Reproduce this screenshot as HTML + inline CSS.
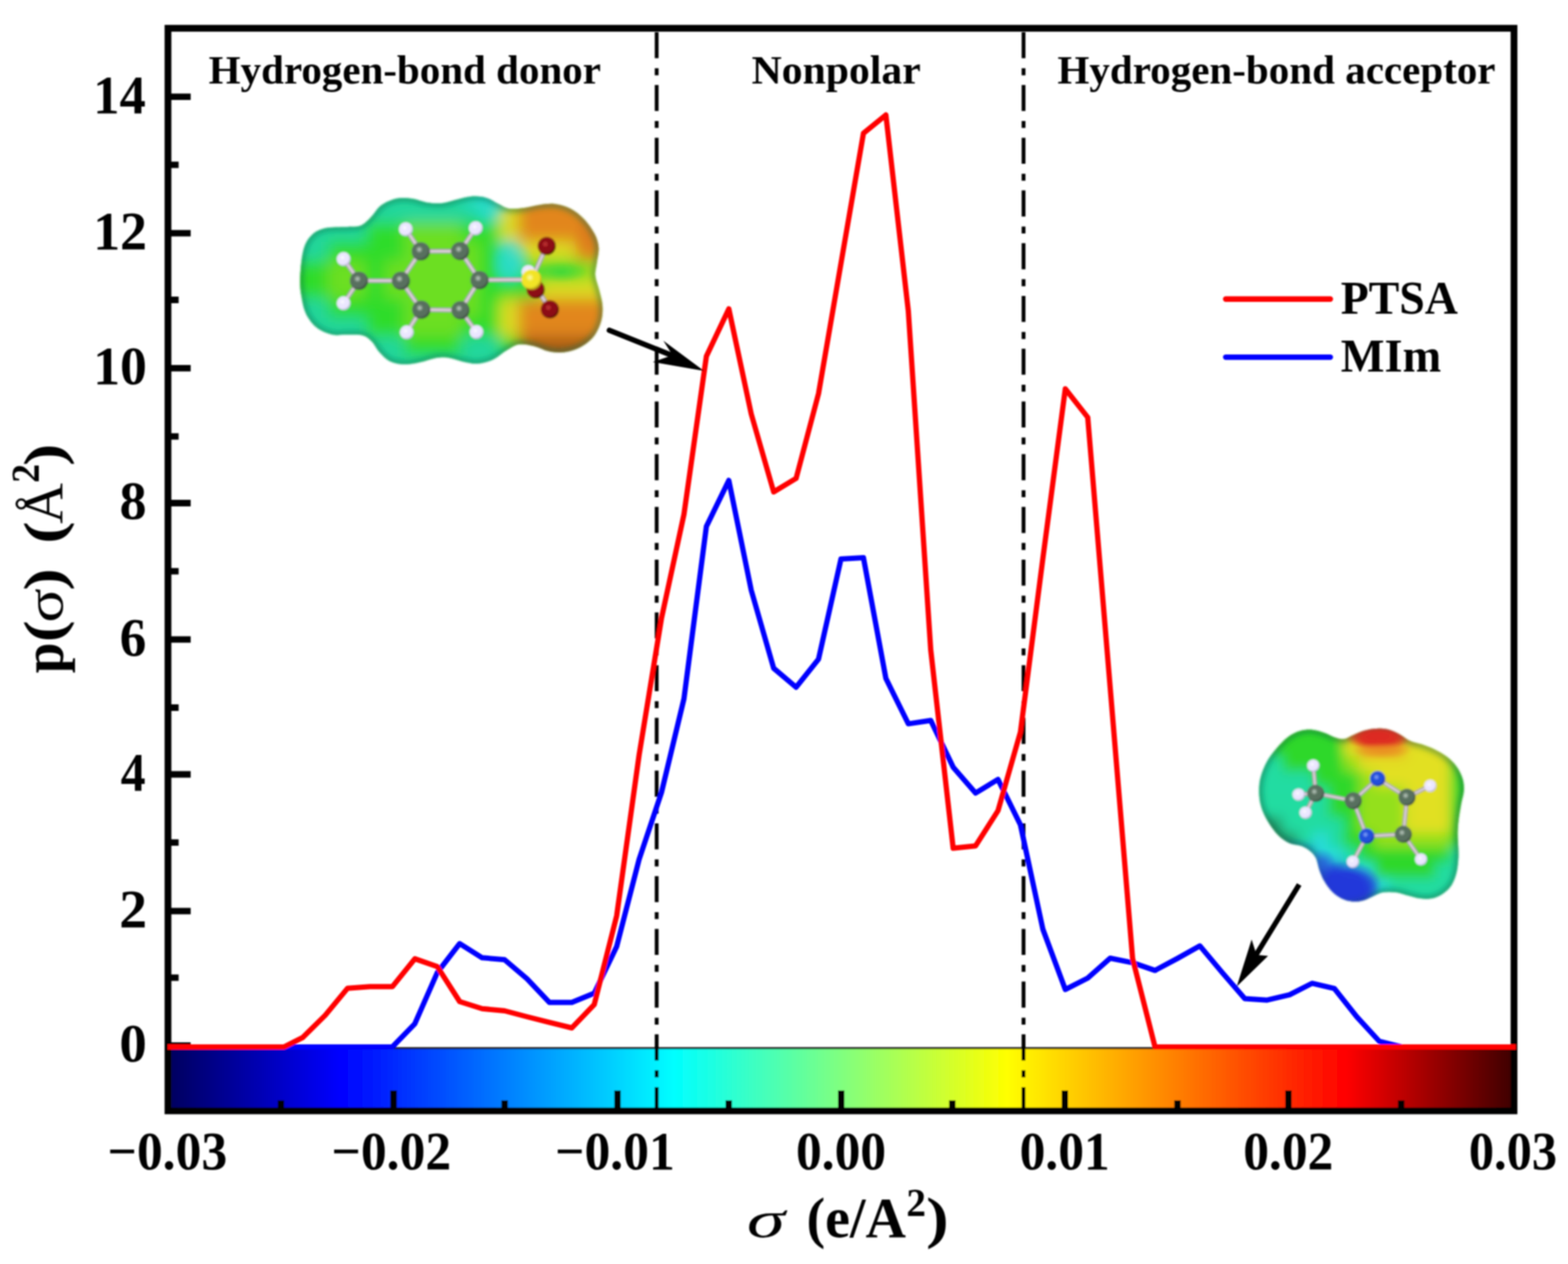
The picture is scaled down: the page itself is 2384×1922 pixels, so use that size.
<!DOCTYPE html>
<html lang="en"><head><meta charset="utf-8"><title>Sigma profile: PTSA and MIm</title>
<style>html,body{margin:0;padding:0;background:#fff}svg{display:block}text{font-family:"Liberation Serif","DejaVu Serif",serif;font-weight:bold;fill:#000}</style></head><body>
<svg width="2384" height="1922" viewBox="0 0 2384 1922" role="img" aria-label="Sigma profiles of PTSA and MIm">
<defs>
<linearGradient id="cb" x1="0" y1="0" x2="1" y2="0"><stop offset="0" stop-color="#000060"/><stop offset="0.1256" stop-color="#0000ff"/><stop offset="0.3755" stop-color="#00ffff"/><stop offset="0.6239" stop-color="#ffff00"/><stop offset="0.8767" stop-color="#ff0000"/><stop offset="1" stop-color="#400000"/></linearGradient>
<filter id="soft" filterUnits="userSpaceOnUse" x="0" y="0" width="2384" height="1922"><feGaussianBlur stdDeviation="0.9"/></filter>
<clipPath id="m1clip"><path d="M456.3,424.0C456.6,412.4 458.2,393.0 460.9,382.2C463.6,371.3 467.1,364.8 472.5,359.0C477.9,353.2 484.1,349.7 493.4,347.3C502.7,345.0 519.0,345.8 528.2,345.0C537.5,344.3 543.0,345.4 549.2,342.7C555.3,340.0 560.4,333.8 565.4,328.8C570.4,323.7 573.1,317.0 579.3,312.5C585.5,308.1 594.8,303.8 602.6,302.1C610.3,300.3 618.0,301.1 625.8,302.1C633.5,303.0 641.3,306.7 649.0,307.9C656.8,309.0 664.5,309.8 672.2,309.0C680.0,308.3 687.7,305.0 695.5,303.2C703.2,301.5 711.3,299.0 718.7,298.6C726.0,298.2 733.0,299.0 739.6,300.9C746.2,302.8 752.4,307.5 758.2,310.2C764.0,312.9 767.8,316.2 774.4,317.2C781.0,318.1 789.9,317.0 797.6,316.0C805.4,315.0 813.1,312.3 820.9,311.4C828.6,310.4 836.3,309.2 844.1,310.2C851.8,311.2 860.0,313.3 867.3,317.2C874.7,321.0 882.0,326.8 888.2,333.4C894.4,340.0 900.8,349.3 904.5,356.6C908.1,364.0 909.8,370.2 910.3,377.5C910.7,384.9 908.1,393.8 907.3,400.8C906.4,407.7 904.5,412.4 905.2,419.3C905.9,426.3 909.6,434.8 911.4,442.6C913.3,450.3 915.7,458.0 916.1,465.8C916.5,473.5 916.1,481.3 913.8,489.0C911.4,496.8 907.6,505.7 902.1,512.2C896.7,518.8 888.6,524.6 881.2,528.5C873.9,532.4 865.8,534.5 858.0,535.5C850.3,536.4 842.5,535.8 834.8,534.3C827.1,532.7 819.3,527.9 811.6,526.2C803.8,524.4 795.3,522.7 788.4,523.8C781.4,525.0 776.4,529.3 769.8,533.1C763.2,537.0 756.2,543.8 748.9,547.1C741.5,550.4 733.4,552.5 725.6,552.9C717.9,553.3 710.2,550.9 702.4,549.4C694.7,547.8 686.2,544.4 679.2,543.6C672.2,542.8 667.2,543.6 660.6,544.7C654.0,545.9 647.1,549.0 639.7,550.6C632.4,552.1 624.2,554.2 616.5,554.0C608.8,553.8 599.9,552.5 593.3,549.4C586.7,546.3 581.7,540.5 577.0,535.5C572.4,530.4 569.7,523.5 565.4,519.2C561.1,514.9 557.7,511.7 551.5,509.9C545.3,508.2 536.0,508.9 528.2,508.8C520.5,508.6 512.8,510.5 505.0,508.8C497.3,507.0 488.4,503.5 481.8,498.3C475.2,493.1 469.4,485.1 465.5,477.4C461.7,469.7 460.1,460.8 458.6,451.9C457.0,443.0 455.9,435.6 456.3,424.0Z"/></clipPath>
<filter id="m1soft" x="-10%" y="-10%" width="120%" height="120%"><feGaussianBlur stdDeviation="1.3"/></filter>
<filter id="m1edge" x="-20%" y="-20%" width="140%" height="140%"><feGaussianBlur stdDeviation="5"/></filter>
<radialGradient id="m1aC" cx="0.42" cy="0.40" r="0.62"><stop offset="0" stop-color="#c4d2c8"/><stop offset="0.32" stop-color="#59705f"/><stop offset="0.75" stop-color="#59705f"/><stop offset="1" stop-color="#2f3d34"/></radialGradient>
<radialGradient id="m1aH" cx="0.42" cy="0.40" r="0.62"><stop offset="0" stop-color="#ffffff"/><stop offset="0.32" stop-color="#ebe6ff"/><stop offset="0.75" stop-color="#ebe6ff"/><stop offset="1" stop-color="#b4acd8"/></radialGradient>
<radialGradient id="m1aO" cx="0.42" cy="0.40" r="0.62"><stop offset="0" stop-color="#c8383c"/><stop offset="0.32" stop-color="#8c0f14"/><stop offset="0.75" stop-color="#8c0f14"/><stop offset="1" stop-color="#4a0406"/></radialGradient>
<radialGradient id="m1aS" cx="0.42" cy="0.40" r="0.62"><stop offset="0" stop-color="#ffffb0"/><stop offset="0.32" stop-color="#f2e428"/><stop offset="0.75" stop-color="#f2e428"/><stop offset="1" stop-color="#ad9c0e"/></radialGradient>
<radialGradient id="m1aN" cx="0.42" cy="0.40" r="0.62"><stop offset="0" stop-color="#8fb0ff"/><stop offset="0.32" stop-color="#2450dc"/><stop offset="0.75" stop-color="#2450dc"/><stop offset="1" stop-color="#0e2080"/></radialGradient>
<filter id="m1gb" filterUnits="userSpaceOnUse" x="411" y="251" width="581" height="377"><feGaussianBlur stdDeviation="11"/></filter>
<radialGradient id="m1g0"><stop offset="0.0" stop-color="#28dcc8" stop-opacity="0.8"/><stop offset="1" stop-color="#28dcc8" stop-opacity="0"/></radialGradient>
<radialGradient id="m1g1"><stop offset="0.0" stop-color="#28dcc8" stop-opacity="0.8"/><stop offset="1" stop-color="#28dcc8" stop-opacity="0"/></radialGradient>
<radialGradient id="m1g2"><stop offset="0.0" stop-color="#3ed83a" stop-opacity="0.85"/><stop offset="1" stop-color="#3ed83a" stop-opacity="0"/></radialGradient>
<radialGradient id="m1g3"><stop offset="0.0" stop-color="#d9741c" stop-opacity="0.6"/><stop offset="1" stop-color="#d9741c" stop-opacity="0"/></radialGradient>
<clipPath id="m2clip"><path d="M1914.4,1200.8C1914.5,1193.9 1915.1,1187.4 1917.2,1180.3C1919.2,1173.2 1922.4,1165.2 1926.4,1158.0C1930.5,1150.9 1936.0,1143.8 1941.3,1137.6C1946.6,1131.4 1952.1,1125.2 1958.0,1120.9C1963.9,1116.5 1970.4,1113.4 1976.6,1111.6C1982.8,1109.7 1989.0,1109.3 1995.2,1109.7C2001.4,1110.2 2008.2,1112.5 2013.8,1114.4C2019.3,1116.2 2023.7,1119.3 2028.6,1120.9C2033.6,1122.4 2038.5,1124.3 2043.5,1123.7C2048.4,1123.0 2053.1,1119.3 2058.4,1117.2C2063.6,1115.0 2069.2,1112.2 2075.1,1110.7C2081.0,1109.1 2087.5,1108.0 2093.7,1107.9C2099.8,1107.7 2106.4,1108.2 2112.2,1109.7C2118.1,1111.3 2123.7,1114.4 2129.0,1117.2C2134.2,1119.9 2138.2,1124.0 2143.8,1126.4C2149.4,1128.9 2156.2,1129.9 2162.4,1132.0C2168.6,1134.2 2174.8,1136.4 2181.0,1139.5C2187.2,1142.5 2194.0,1146.3 2199.6,1150.6C2205.1,1154.9 2210.4,1159.9 2214.4,1165.5C2218.4,1171.0 2221.8,1177.8 2223.7,1184.0C2225.6,1190.2 2225.9,1196.4 2225.6,1202.6C2225.3,1208.8 2223.1,1214.4 2221.8,1221.2C2220.6,1228.0 2219.1,1236.1 2218.1,1243.5C2217.2,1250.9 2216.4,1258.4 2216.3,1265.8C2216.1,1273.2 2217.0,1281.3 2217.2,1288.1C2217.4,1294.9 2217.7,1300.2 2217.2,1306.7C2216.7,1313.2 2216.1,1320.6 2214.4,1327.1C2212.7,1333.6 2210.4,1340.4 2207.0,1345.7C2203.6,1350.9 2198.9,1355.3 2194.0,1358.7C2189.0,1362.1 2183.1,1364.9 2177.3,1366.1C2171.4,1367.4 2164.9,1366.9 2158.7,1366.1C2152.5,1365.3 2146.3,1363.0 2140.1,1361.5C2133.9,1359.9 2127.7,1357.6 2121.5,1356.8C2115.3,1356.0 2108.5,1355.9 2102.9,1356.8C2097.4,1357.8 2093.0,1360.4 2088.1,1362.4C2083.1,1364.4 2078.5,1367.5 2073.2,1368.9C2068.0,1370.3 2062.1,1371.2 2056.5,1370.8C2050.9,1370.3 2045.0,1368.7 2039.8,1366.1C2034.5,1363.5 2029.2,1359.3 2024.9,1355.0C2020.6,1350.6 2016.9,1345.4 2013.8,1340.1C2010.7,1334.8 2008.5,1329.3 2006.3,1323.4C2004.2,1317.5 2003.2,1309.8 2000.8,1304.8C1998.3,1299.8 1995.2,1296.8 1991.5,1293.7C1987.8,1290.6 1983.4,1288.1 1978.5,1286.2C1973.5,1284.4 1967.0,1284.7 1961.7,1282.5C1956.5,1280.3 1951.5,1277.2 1946.9,1273.2C1942.2,1269.2 1937.9,1263.9 1933.9,1258.4C1929.9,1252.8 1925.7,1246.0 1922.7,1239.8C1919.8,1233.6 1917.6,1227.7 1916.2,1221.2C1914.8,1214.7 1914.2,1207.6 1914.4,1200.8Z"/></clipPath>
<filter id="m2soft" x="-10%" y="-10%" width="120%" height="120%"><feGaussianBlur stdDeviation="1.3"/></filter>
<filter id="m2edge" x="-20%" y="-20%" width="140%" height="140%"><feGaussianBlur stdDeviation="5"/></filter>
<radialGradient id="m2aC" cx="0.42" cy="0.40" r="0.62"><stop offset="0" stop-color="#c4d2c8"/><stop offset="0.32" stop-color="#59705f"/><stop offset="0.75" stop-color="#59705f"/><stop offset="1" stop-color="#2f3d34"/></radialGradient>
<radialGradient id="m2aH" cx="0.42" cy="0.40" r="0.62"><stop offset="0" stop-color="#ffffff"/><stop offset="0.32" stop-color="#ebe6ff"/><stop offset="0.75" stop-color="#ebe6ff"/><stop offset="1" stop-color="#b4acd8"/></radialGradient>
<radialGradient id="m2aO" cx="0.42" cy="0.40" r="0.62"><stop offset="0" stop-color="#c8383c"/><stop offset="0.32" stop-color="#8c0f14"/><stop offset="0.75" stop-color="#8c0f14"/><stop offset="1" stop-color="#4a0406"/></radialGradient>
<radialGradient id="m2aS" cx="0.42" cy="0.40" r="0.62"><stop offset="0" stop-color="#ffffb0"/><stop offset="0.32" stop-color="#f2e428"/><stop offset="0.75" stop-color="#f2e428"/><stop offset="1" stop-color="#ad9c0e"/></radialGradient>
<radialGradient id="m2aN" cx="0.42" cy="0.40" r="0.62"><stop offset="0" stop-color="#8fb0ff"/><stop offset="0.32" stop-color="#2450dc"/><stop offset="0.75" stop-color="#2450dc"/><stop offset="1" stop-color="#0e2080"/></radialGradient>
<filter id="m2gb" filterUnits="userSpaceOnUse" x="1857" y="1057" width="464" height="372"><feGaussianBlur stdDeviation="9"/></filter>
<radialGradient id="m2g0"><stop offset="0.3" stop-color="#dc2a22" stop-opacity="0.9"/><stop offset="1" stop-color="#dc2a22" stop-opacity="0"/></radialGradient>
<radialGradient id="m2g1"><stop offset="0.3" stop-color="#2236d8" stop-opacity="0.9"/><stop offset="1" stop-color="#2236d8" stop-opacity="0"/></radialGradient>
<radialGradient id="m2g2"><stop offset="0.45" stop-color="#de2c22" stop-opacity="0.95"/><stop offset="1" stop-color="#de2c22" stop-opacity="0"/></radialGradient>
<radialGradient id="m2g3"><stop offset="0.2" stop-color="#ea8c22" stop-opacity="0.7"/><stop offset="1" stop-color="#ea8c22" stop-opacity="0"/></radialGradient>
<radialGradient id="m2g4"><stop offset="0.45" stop-color="#2438da" stop-opacity="0.95"/><stop offset="1" stop-color="#2438da" stop-opacity="0"/></radialGradient>
<radialGradient id="m2g5"><stop offset="0.2" stop-color="#2a58dc" stop-opacity="0.7"/><stop offset="1" stop-color="#2a58dc" stop-opacity="0"/></radialGradient>
</defs>
<rect x="0" y="0" width="2384" height="1922" fill="#fff"/>
<g filter="url(#soft)">
<rect x="260.1" y="1593.5" width="2037.2" height="91.2" fill="url(#cb)"/>
<line x1="260.1" y1="1593.8" x2="2297.2" y2="1593.8" stroke="#1a1a1a" stroke-width="3"/>
<rect x="255.4" y="43.0" width="2046.5" height="1646.1" fill="none" stroke="#000" stroke-width="10.3"/>
<path d="M255.4,147.2H289.9M255.4,250.6H271.6M255.4,354.6H289.9M255.4,456.0H271.6M255.4,559.8H289.9M255.4,663.6H271.6M255.4,765.0H289.9M255.4,868.7H271.6M255.4,972.4H289.9M255.4,1076.0H271.6M255.4,1177.5H289.9M255.4,1281.1H271.6M255.4,1385.3H289.9M255.4,1486.6H271.6M255.4,1589.8H289.9M427.2,1689.1V1673.2M598.4,1689.1V1658.2M767.3,1689.1V1673.2M938.8,1689.1V1658.2M1107.9,1689.1V1673.2M1278.9,1689.1V1658.2M1447.8,1689.1V1673.2M1619.0,1689.1V1658.2M1790.3,1689.1V1673.2M1958.9,1689.1V1658.2M2130.4,1689.1V1673.2" fill="none" stroke="#000" stroke-width="9.8"/>
<line x1="998.4" y1="49.0" x2="998.4" y2="1689.1" stroke="#000" stroke-width="5.8" stroke-dasharray="39.6 15.2 10.6 14.8"/>
<line x1="1556.2" y1="49.0" x2="1556.2" y2="1689.1" stroke="#000" stroke-width="5.8" stroke-dasharray="39.6 15.2 10.6 14.8"/>
<g filter="url(#m1soft)">
<path d="M456.3,424.0C456.6,412.4 458.2,393.0 460.9,382.2C463.6,371.3 467.1,364.8 472.5,359.0C477.9,353.2 484.1,349.7 493.4,347.3C502.7,345.0 519.0,345.8 528.2,345.0C537.5,344.3 543.0,345.4 549.2,342.7C555.3,340.0 560.4,333.8 565.4,328.8C570.4,323.7 573.1,317.0 579.3,312.5C585.5,308.1 594.8,303.8 602.6,302.1C610.3,300.3 618.0,301.1 625.8,302.1C633.5,303.0 641.3,306.7 649.0,307.9C656.8,309.0 664.5,309.8 672.2,309.0C680.0,308.3 687.7,305.0 695.5,303.2C703.2,301.5 711.3,299.0 718.7,298.6C726.0,298.2 733.0,299.0 739.6,300.9C746.2,302.8 752.4,307.5 758.2,310.2C764.0,312.9 767.8,316.2 774.4,317.2C781.0,318.1 789.9,317.0 797.6,316.0C805.4,315.0 813.1,312.3 820.9,311.4C828.6,310.4 836.3,309.2 844.1,310.2C851.8,311.2 860.0,313.3 867.3,317.2C874.7,321.0 882.0,326.8 888.2,333.4C894.4,340.0 900.8,349.3 904.5,356.6C908.1,364.0 909.8,370.2 910.3,377.5C910.7,384.9 908.1,393.8 907.3,400.8C906.4,407.7 904.5,412.4 905.2,419.3C905.9,426.3 909.6,434.8 911.4,442.6C913.3,450.3 915.7,458.0 916.1,465.8C916.5,473.5 916.1,481.3 913.8,489.0C911.4,496.8 907.6,505.7 902.1,512.2C896.7,518.8 888.6,524.6 881.2,528.5C873.9,532.4 865.8,534.5 858.0,535.5C850.3,536.4 842.5,535.8 834.8,534.3C827.1,532.7 819.3,527.9 811.6,526.2C803.8,524.4 795.3,522.7 788.4,523.8C781.4,525.0 776.4,529.3 769.8,533.1C763.2,537.0 756.2,543.8 748.9,547.1C741.5,550.4 733.4,552.5 725.6,552.9C717.9,553.3 710.2,550.9 702.4,549.4C694.7,547.8 686.2,544.4 679.2,543.6C672.2,542.8 667.2,543.6 660.6,544.7C654.0,545.9 647.1,549.0 639.7,550.6C632.4,552.1 624.2,554.2 616.5,554.0C608.8,553.8 599.9,552.5 593.3,549.4C586.7,546.3 581.7,540.5 577.0,535.5C572.4,530.4 569.7,523.5 565.4,519.2C561.1,514.9 557.7,511.7 551.5,509.9C545.3,508.2 536.0,508.9 528.2,508.8C520.5,508.6 512.8,510.5 505.0,508.8C497.3,507.0 488.4,503.5 481.8,498.3C475.2,493.1 469.4,485.1 465.5,477.4C461.7,469.7 460.1,460.8 458.6,451.9C457.0,443.0 455.9,435.6 456.3,424.0Z" fill="#2fdc2c"/>
<g clip-path="url(#m1clip)">
<g filter="url(#m1gb)">
<rect x="411" y="251" width="581" height="377" fill="#2fdc2c"/>
<rect x="440.0" y="280.0" width="290.6" height="29.3" fill="#20d79c"/>
<rect x="730.3" y="280.0" width="29.3" height="29.3" fill="#28dcc8"/>
<rect x="788.4" y="280.0" width="174.5" height="29.3" fill="#e2861f"/>
<rect x="440.0" y="309.0" width="290.6" height="29.3" fill="#20d79c"/>
<rect x="730.3" y="309.0" width="29.3" height="29.3" fill="#28dcc8"/>
<rect x="759.3" y="309.0" width="29.3" height="29.3" fill="#dcdc22"/>
<rect x="788.4" y="309.0" width="174.5" height="29.3" fill="#e2861f"/>
<rect x="440.0" y="338.1" width="116.4" height="29.3" fill="#20d79c"/>
<rect x="614.2" y="338.1" width="87.4" height="29.3" fill="#6cdf22"/>
<rect x="759.3" y="338.1" width="29.3" height="29.3" fill="#dcdc22"/>
<rect x="788.4" y="338.1" width="174.5" height="29.3" fill="#e2861f"/>
<rect x="440.0" y="367.1" width="58.4" height="29.3" fill="#20d79c"/>
<rect x="614.2" y="367.1" width="116.4" height="29.3" fill="#6cdf22"/>
<rect x="759.3" y="367.1" width="29.3" height="29.3" fill="#28dcc8"/>
<rect x="788.4" y="367.1" width="87.4" height="29.3" fill="#dcdc22"/>
<rect x="875.4" y="367.1" width="87.4" height="29.3" fill="#e2861f"/>
<rect x="498.1" y="396.1" width="58.4" height="29.3" fill="#6cdf22"/>
<rect x="585.1" y="396.1" width="145.4" height="29.3" fill="#6cdf22"/>
<rect x="759.3" y="396.1" width="29.3" height="29.3" fill="#28dcc8"/>
<rect x="875.4" y="396.1" width="29.3" height="29.3" fill="#6cdf22"/>
<rect x="904.5" y="396.1" width="58.4" height="29.3" fill="#dcdc22"/>
<rect x="498.1" y="425.1" width="58.4" height="29.3" fill="#6cdf22"/>
<rect x="585.1" y="425.1" width="145.4" height="29.3" fill="#6cdf22"/>
<rect x="817.4" y="425.1" width="145.4" height="29.3" fill="#dcdc22"/>
<rect x="440.0" y="454.2" width="58.4" height="29.3" fill="#20d79c"/>
<rect x="614.2" y="454.2" width="116.4" height="29.3" fill="#6cdf22"/>
<rect x="759.3" y="454.2" width="29.3" height="29.3" fill="#dcdc22"/>
<rect x="788.4" y="454.2" width="174.5" height="29.3" fill="#e2861f"/>
<rect x="440.0" y="483.2" width="116.4" height="29.3" fill="#20d79c"/>
<rect x="614.2" y="483.2" width="87.4" height="29.3" fill="#6cdf22"/>
<rect x="759.3" y="483.2" width="29.3" height="29.3" fill="#dcdc22"/>
<rect x="788.4" y="483.2" width="174.5" height="29.3" fill="#e2861f"/>
<rect x="440.0" y="512.2" width="174.5" height="29.3" fill="#20d79c"/>
<rect x="701.3" y="512.2" width="58.4" height="29.3" fill="#20d79c"/>
<rect x="788.4" y="512.2" width="174.5" height="29.3" fill="#a85c14"/>
<rect x="440.0" y="541.3" width="348.7" height="29.3" fill="#20d79c"/>
<rect x="788.4" y="541.3" width="174.5" height="29.3" fill="#a85c14"/>
<rect x="440.0" y="570.3" width="348.7" height="29.3" fill="#20d79c"/>
<rect x="788.4" y="570.3" width="174.5" height="29.3" fill="#a85c14"/>
</g>
<ellipse cx="779.1" cy="400.8" rx="34.8" ry="34.8" fill="url(#m1g0)"/>
<ellipse cx="734.9" cy="307.9" rx="46.4" ry="25.5" fill="url(#m1g1)"/>
<ellipse cx="853.4" cy="413.5" rx="39.5" ry="16.3" fill="url(#m1g2)"/>
<ellipse cx="895.2" cy="356.6" rx="25.5" ry="39.5" fill="url(#m1g3)"/>
<path d="M456.3,424.0C456.6,412.4 458.2,393.0 460.9,382.2C463.6,371.3 467.1,364.8 472.5,359.0C477.9,353.2 484.1,349.7 493.4,347.3C502.7,345.0 519.0,345.8 528.2,345.0C537.5,344.3 543.0,345.4 549.2,342.7C555.3,340.0 560.4,333.8 565.4,328.8C570.4,323.7 573.1,317.0 579.3,312.5C585.5,308.1 594.8,303.8 602.6,302.1C610.3,300.3 618.0,301.1 625.8,302.1C633.5,303.0 641.3,306.7 649.0,307.9C656.8,309.0 664.5,309.8 672.2,309.0C680.0,308.3 687.7,305.0 695.5,303.2C703.2,301.5 711.3,299.0 718.7,298.6C726.0,298.2 733.0,299.0 739.6,300.9C746.2,302.8 752.4,307.5 758.2,310.2C764.0,312.9 767.8,316.2 774.4,317.2C781.0,318.1 789.9,317.0 797.6,316.0C805.4,315.0 813.1,312.3 820.9,311.4C828.6,310.4 836.3,309.2 844.1,310.2C851.8,311.2 860.0,313.3 867.3,317.2C874.7,321.0 882.0,326.8 888.2,333.4C894.4,340.0 900.8,349.3 904.5,356.6C908.1,364.0 909.8,370.2 910.3,377.5C910.7,384.9 908.1,393.8 907.3,400.8C906.4,407.7 904.5,412.4 905.2,419.3C905.9,426.3 909.6,434.8 911.4,442.6C913.3,450.3 915.7,458.0 916.1,465.8C916.5,473.5 916.1,481.3 913.8,489.0C911.4,496.8 907.6,505.7 902.1,512.2C896.7,518.8 888.6,524.6 881.2,528.5C873.9,532.4 865.8,534.5 858.0,535.5C850.3,536.4 842.5,535.8 834.8,534.3C827.1,532.7 819.3,527.9 811.6,526.2C803.8,524.4 795.3,522.7 788.4,523.8C781.4,525.0 776.4,529.3 769.8,533.1C763.2,537.0 756.2,543.8 748.9,547.1C741.5,550.4 733.4,552.5 725.6,552.9C717.9,553.3 710.2,550.9 702.4,549.4C694.7,547.8 686.2,544.4 679.2,543.6C672.2,542.8 667.2,543.6 660.6,544.7C654.0,545.9 647.1,549.0 639.7,550.6C632.4,552.1 624.2,554.2 616.5,554.0C608.8,553.8 599.9,552.5 593.3,549.4C586.7,546.3 581.7,540.5 577.0,535.5C572.4,530.4 569.7,523.5 565.4,519.2C561.1,514.9 557.7,511.7 551.5,509.9C545.3,508.2 536.0,508.9 528.2,508.8C520.5,508.6 512.8,510.5 505.0,508.8C497.3,507.0 488.4,503.5 481.8,498.3C475.2,493.1 469.4,485.1 465.5,477.4C461.7,469.7 460.1,460.8 458.6,451.9C457.0,443.0 455.9,435.6 456.3,424.0Z" fill="none" stroke="#0c6b4a" stroke-opacity="0.55" stroke-width="9" filter="url(#m1edge)"/>
</g>
<path d="M545.7,426.8L609.5,426.8M609.5,426.8L639.7,382.2M639.7,382.2L699.6,381.7M699.6,381.7L729.1,425.8M729.1,425.8L700.1,471.6M700.1,471.6L640.4,470.9M640.4,470.9L609.5,426.8M545.7,426.8L522.4,393.8M545.7,426.8L522.4,461.1M639.7,382.2L617.0,348.5M699.6,381.7L723.3,346.9M640.4,470.9L618.4,505.3M700.1,471.6L724.5,504.8M729.1,425.8L808.1,425.1M808.1,425.1L831.3,374.1M808.1,425.1L836.0,470.4" fill="none" stroke="#8f8791" stroke-width="6.7" stroke-linecap="round"/>
<path d="M545.7,426.8L609.5,426.8M609.5,426.8L639.7,382.2M639.7,382.2L699.6,381.7M699.6,381.7L729.1,425.8M729.1,425.8L700.1,471.6M700.1,471.6L640.4,470.9M640.4,470.9L609.5,426.8M545.7,426.8L522.4,393.8M545.7,426.8L522.4,461.1M639.7,382.2L617.0,348.5M699.6,381.7L723.3,346.9M640.4,470.9L618.4,505.3M700.1,471.6L724.5,504.8M729.1,425.8L808.1,425.1M808.1,425.1L831.3,374.1M808.1,425.1L836.0,470.4" fill="none" stroke="#dcd2da" stroke-width="4.1" stroke-linecap="round"/>
<circle cx="803.4" cy="413.5" r="10.5" fill="url(#m1aH)"/>
<circle cx="814.4" cy="440.2" r="13.9" fill="url(#m1aO)"/>
<circle cx="522.4" cy="393.8" r="10.5" fill="url(#m1aH)"/>
<circle cx="522.4" cy="461.1" r="10.5" fill="url(#m1aH)"/>
<circle cx="617.0" cy="348.5" r="10.5" fill="url(#m1aH)"/>
<circle cx="723.3" cy="346.9" r="10.5" fill="url(#m1aH)"/>
<circle cx="618.4" cy="505.3" r="10.5" fill="url(#m1aH)"/>
<circle cx="724.5" cy="504.8" r="10.5" fill="url(#m1aH)"/>
<circle cx="545.7" cy="426.8" r="13.9" fill="url(#m1aC)"/>
<circle cx="609.5" cy="426.8" r="13.9" fill="url(#m1aC)"/>
<circle cx="639.7" cy="382.2" r="13.9" fill="url(#m1aC)"/>
<circle cx="699.6" cy="381.7" r="13.9" fill="url(#m1aC)"/>
<circle cx="729.1" cy="425.8" r="13.9" fill="url(#m1aC)"/>
<circle cx="700.1" cy="471.6" r="13.9" fill="url(#m1aC)"/>
<circle cx="640.4" cy="470.9" r="13.9" fill="url(#m1aC)"/>
<circle cx="831.3" cy="374.1" r="13.9" fill="url(#m1aO)"/>
<circle cx="836.0" cy="470.4" r="13.9" fill="url(#m1aO)"/>
<circle cx="808.1" cy="425.1" r="15.3" fill="url(#m1aS)"/>
</g>
<g filter="url(#m2soft)">
<path d="M1914.4,1200.8C1914.5,1193.9 1915.1,1187.4 1917.2,1180.3C1919.2,1173.2 1922.4,1165.2 1926.4,1158.0C1930.5,1150.9 1936.0,1143.8 1941.3,1137.6C1946.6,1131.4 1952.1,1125.2 1958.0,1120.9C1963.9,1116.5 1970.4,1113.4 1976.6,1111.6C1982.8,1109.7 1989.0,1109.3 1995.2,1109.7C2001.4,1110.2 2008.2,1112.5 2013.8,1114.4C2019.3,1116.2 2023.7,1119.3 2028.6,1120.9C2033.6,1122.4 2038.5,1124.3 2043.5,1123.7C2048.4,1123.0 2053.1,1119.3 2058.4,1117.2C2063.6,1115.0 2069.2,1112.2 2075.1,1110.7C2081.0,1109.1 2087.5,1108.0 2093.7,1107.9C2099.8,1107.7 2106.4,1108.2 2112.2,1109.7C2118.1,1111.3 2123.7,1114.4 2129.0,1117.2C2134.2,1119.9 2138.2,1124.0 2143.8,1126.4C2149.4,1128.9 2156.2,1129.9 2162.4,1132.0C2168.6,1134.2 2174.8,1136.4 2181.0,1139.5C2187.2,1142.5 2194.0,1146.3 2199.6,1150.6C2205.1,1154.9 2210.4,1159.9 2214.4,1165.5C2218.4,1171.0 2221.8,1177.8 2223.7,1184.0C2225.6,1190.2 2225.9,1196.4 2225.6,1202.6C2225.3,1208.8 2223.1,1214.4 2221.8,1221.2C2220.6,1228.0 2219.1,1236.1 2218.1,1243.5C2217.2,1250.9 2216.4,1258.4 2216.3,1265.8C2216.1,1273.2 2217.0,1281.3 2217.2,1288.1C2217.4,1294.9 2217.7,1300.2 2217.2,1306.7C2216.7,1313.2 2216.1,1320.6 2214.4,1327.1C2212.7,1333.6 2210.4,1340.4 2207.0,1345.7C2203.6,1350.9 2198.9,1355.3 2194.0,1358.7C2189.0,1362.1 2183.1,1364.9 2177.3,1366.1C2171.4,1367.4 2164.9,1366.9 2158.7,1366.1C2152.5,1365.3 2146.3,1363.0 2140.1,1361.5C2133.9,1359.9 2127.7,1357.6 2121.5,1356.8C2115.3,1356.0 2108.5,1355.9 2102.9,1356.8C2097.4,1357.8 2093.0,1360.4 2088.1,1362.4C2083.1,1364.4 2078.5,1367.5 2073.2,1368.9C2068.0,1370.3 2062.1,1371.2 2056.5,1370.8C2050.9,1370.3 2045.0,1368.7 2039.8,1366.1C2034.5,1363.5 2029.2,1359.3 2024.9,1355.0C2020.6,1350.6 2016.9,1345.4 2013.8,1340.1C2010.7,1334.8 2008.5,1329.3 2006.3,1323.4C2004.2,1317.5 2003.2,1309.8 2000.8,1304.8C1998.3,1299.8 1995.2,1296.8 1991.5,1293.7C1987.8,1290.6 1983.4,1288.1 1978.5,1286.2C1973.5,1284.4 1967.0,1284.7 1961.7,1282.5C1956.5,1280.3 1951.5,1277.2 1946.9,1273.2C1942.2,1269.2 1937.9,1263.9 1933.9,1258.4C1929.9,1252.8 1925.7,1246.0 1922.7,1239.8C1919.8,1233.6 1917.6,1227.7 1916.2,1221.2C1914.8,1214.7 1914.2,1207.6 1914.4,1200.8Z" fill="#2fd82c"/>
<g clip-path="url(#m2clip)">
<g filter="url(#m2gb)">
<rect x="1857" y="1057" width="464" height="372" fill="#2fd82c"/>
<rect x="2042.6" y="1080.0" width="23.5" height="23.5" fill="#ea9422"/>
<rect x="2065.8" y="1080.0" width="70.0" height="23.5" fill="#dc2a22"/>
<rect x="2135.5" y="1080.0" width="23.5" height="23.5" fill="#ea9422"/>
<rect x="2158.7" y="1080.0" width="46.7" height="23.5" fill="#e2e020"/>
<rect x="2042.6" y="1103.2" width="23.5" height="23.5" fill="#ea9422"/>
<rect x="2065.8" y="1103.2" width="70.0" height="23.5" fill="#dc2a22"/>
<rect x="2135.5" y="1103.2" width="23.5" height="23.5" fill="#ea9422"/>
<rect x="2158.7" y="1103.2" width="46.7" height="23.5" fill="#e2e020"/>
<rect x="1880.0" y="1126.4" width="46.7" height="23.5" fill="#22dca2"/>
<rect x="2042.6" y="1126.4" width="23.5" height="23.5" fill="#e2e020"/>
<rect x="2065.8" y="1126.4" width="70.0" height="23.5" fill="#ea9422"/>
<rect x="2135.5" y="1126.4" width="70.0" height="23.5" fill="#e2e020"/>
<rect x="1880.0" y="1149.7" width="70.0" height="23.5" fill="#22dca2"/>
<rect x="2042.6" y="1149.7" width="23.5" height="23.5" fill="#94e01e"/>
<rect x="2065.8" y="1149.7" width="139.6" height="23.5" fill="#e2e020"/>
<rect x="1880.0" y="1172.9" width="116.4" height="23.5" fill="#22dca2"/>
<rect x="2065.8" y="1172.9" width="23.5" height="23.5" fill="#94e01e"/>
<rect x="2089.0" y="1172.9" width="116.4" height="23.5" fill="#e2e020"/>
<rect x="1880.0" y="1196.1" width="139.6" height="23.5" fill="#22dca2"/>
<rect x="2065.8" y="1196.1" width="70.0" height="23.5" fill="#94e01e"/>
<rect x="2135.5" y="1196.1" width="70.0" height="23.5" fill="#e2e020"/>
<rect x="1880.0" y="1219.3" width="139.6" height="23.5" fill="#22dca2"/>
<rect x="2065.8" y="1219.3" width="70.0" height="23.5" fill="#94e01e"/>
<rect x="2135.5" y="1219.3" width="70.0" height="23.5" fill="#e2e020"/>
<rect x="1880.0" y="1242.6" width="70.0" height="23.5" fill="#229a68"/>
<rect x="1949.7" y="1242.6" width="93.2" height="23.5" fill="#22dca2"/>
<rect x="2065.8" y="1242.6" width="70.0" height="23.5" fill="#94e01e"/>
<rect x="2135.5" y="1242.6" width="70.0" height="23.5" fill="#e2e020"/>
<rect x="1880.0" y="1265.8" width="93.2" height="23.5" fill="#229a68"/>
<rect x="1972.9" y="1265.8" width="23.5" height="23.5" fill="#22dca2"/>
<rect x="1996.1" y="1265.8" width="23.5" height="23.5" fill="#26dcd8"/>
<rect x="2019.3" y="1265.8" width="23.5" height="23.5" fill="#22dca2"/>
<rect x="2089.0" y="1265.8" width="116.4" height="23.5" fill="#94e01e"/>
<rect x="1880.0" y="1289.0" width="116.4" height="23.5" fill="#2236d8"/>
<rect x="1996.1" y="1289.0" width="46.7" height="23.5" fill="#26dcd8"/>
<rect x="2042.6" y="1289.0" width="23.5" height="23.5" fill="#22dca2"/>
<rect x="2205.1" y="1289.0" width="93.2" height="23.5" fill="#22dca2"/>
<rect x="1880.0" y="1312.2" width="162.9" height="23.5" fill="#2236d8"/>
<rect x="2042.6" y="1312.2" width="46.7" height="23.5" fill="#26dcd8"/>
<rect x="2181.9" y="1312.2" width="116.4" height="23.5" fill="#22dca2"/>
<rect x="1880.0" y="1335.5" width="209.3" height="23.5" fill="#2236d8"/>
<rect x="2089.0" y="1335.5" width="23.5" height="23.5" fill="#26dcd8"/>
<rect x="2112.2" y="1335.5" width="186.1" height="23.5" fill="#22dca2"/>
<rect x="1880.0" y="1358.7" width="209.3" height="23.5" fill="#2236d8"/>
<rect x="2089.0" y="1358.7" width="209.3" height="23.5" fill="#22dca2"/>
<rect x="1880.0" y="1381.9" width="209.3" height="23.5" fill="#2236d8"/>
<rect x="2089.0" y="1381.9" width="209.3" height="23.5" fill="#22dca2"/>
</g>
<ellipse cx="2093.7" cy="1119.9" rx="42.7" ry="14.9" fill="url(#m2g0)"/>
<ellipse cx="2047.2" cy="1351.2" rx="48.3" ry="31.6" fill="url(#m2g1)"/>
<path d="M1914.4,1200.8C1914.5,1193.9 1915.1,1187.4 1917.2,1180.3C1919.2,1173.2 1922.4,1165.2 1926.4,1158.0C1930.5,1150.9 1936.0,1143.8 1941.3,1137.6C1946.6,1131.4 1952.1,1125.2 1958.0,1120.9C1963.9,1116.5 1970.4,1113.4 1976.6,1111.6C1982.8,1109.7 1989.0,1109.3 1995.2,1109.7C2001.4,1110.2 2008.2,1112.5 2013.8,1114.4C2019.3,1116.2 2023.7,1119.3 2028.6,1120.9C2033.6,1122.4 2038.5,1124.3 2043.5,1123.7C2048.4,1123.0 2053.1,1119.3 2058.4,1117.2C2063.6,1115.0 2069.2,1112.2 2075.1,1110.7C2081.0,1109.1 2087.5,1108.0 2093.7,1107.9C2099.8,1107.7 2106.4,1108.2 2112.2,1109.7C2118.1,1111.3 2123.7,1114.4 2129.0,1117.2C2134.2,1119.9 2138.2,1124.0 2143.8,1126.4C2149.4,1128.9 2156.2,1129.9 2162.4,1132.0C2168.6,1134.2 2174.8,1136.4 2181.0,1139.5C2187.2,1142.5 2194.0,1146.3 2199.6,1150.6C2205.1,1154.9 2210.4,1159.9 2214.4,1165.5C2218.4,1171.0 2221.8,1177.8 2223.7,1184.0C2225.6,1190.2 2225.9,1196.4 2225.6,1202.6C2225.3,1208.8 2223.1,1214.4 2221.8,1221.2C2220.6,1228.0 2219.1,1236.1 2218.1,1243.5C2217.2,1250.9 2216.4,1258.4 2216.3,1265.8C2216.1,1273.2 2217.0,1281.3 2217.2,1288.1C2217.4,1294.9 2217.7,1300.2 2217.2,1306.7C2216.7,1313.2 2216.1,1320.6 2214.4,1327.1C2212.7,1333.6 2210.4,1340.4 2207.0,1345.7C2203.6,1350.9 2198.9,1355.3 2194.0,1358.7C2189.0,1362.1 2183.1,1364.9 2177.3,1366.1C2171.4,1367.4 2164.9,1366.9 2158.7,1366.1C2152.5,1365.3 2146.3,1363.0 2140.1,1361.5C2133.9,1359.9 2127.7,1357.6 2121.5,1356.8C2115.3,1356.0 2108.5,1355.9 2102.9,1356.8C2097.4,1357.8 2093.0,1360.4 2088.1,1362.4C2083.1,1364.4 2078.5,1367.5 2073.2,1368.9C2068.0,1370.3 2062.1,1371.2 2056.5,1370.8C2050.9,1370.3 2045.0,1368.7 2039.8,1366.1C2034.5,1363.5 2029.2,1359.3 2024.9,1355.0C2020.6,1350.6 2016.9,1345.4 2013.8,1340.1C2010.7,1334.8 2008.5,1329.3 2006.3,1323.4C2004.2,1317.5 2003.2,1309.8 2000.8,1304.8C1998.3,1299.8 1995.2,1296.8 1991.5,1293.7C1987.8,1290.6 1983.4,1288.1 1978.5,1286.2C1973.5,1284.4 1967.0,1284.7 1961.7,1282.5C1956.5,1280.3 1951.5,1277.2 1946.9,1273.2C1942.2,1269.2 1937.9,1263.9 1933.9,1258.4C1929.9,1252.8 1925.7,1246.0 1922.7,1239.8C1919.8,1233.6 1917.6,1227.7 1916.2,1221.2C1914.8,1214.7 1914.2,1207.6 1914.4,1200.8Z" fill="none" stroke="#0c5c44" stroke-opacity="0.55" stroke-width="9" filter="url(#m2edge)"/>
<ellipse cx="2095.5" cy="1121.8" rx="50.2" ry="18.6" fill="url(#m2g2)"/>
<ellipse cx="2101.1" cy="1141.3" rx="44.6" ry="13.0" fill="url(#m2g3)"/>
<ellipse cx="2045.4" cy="1345.7" rx="55.7" ry="37.2" fill="url(#m2g4)"/>
<ellipse cx="2010.1" cy="1314.1" rx="22.3" ry="24.2" fill="url(#m2g5)"/>
</g>
<path d="M2000.4,1206.3L2057.4,1217.5M2057.4,1217.5L2094.6,1184.0M2094.6,1184.0L2139.2,1212.3M2139.2,1212.3L2133.6,1268.6M2133.6,1268.6L2077.9,1271.4M2077.9,1271.4L2057.4,1217.5M2000.4,1206.3L1996.7,1164.0M2000.4,1206.3L1974.4,1208.2M2000.4,1206.3L1985.0,1235.7M2139.2,1212.3L2174.5,1194.8M2133.6,1268.6L2160.5,1306.7M2077.9,1271.4L2056.9,1310.4" fill="none" stroke="#8f8791" stroke-width="6.1" stroke-linecap="round"/>
<path d="M2000.4,1206.3L2057.4,1217.5M2057.4,1217.5L2094.6,1184.0M2094.6,1184.0L2139.2,1212.3M2139.2,1212.3L2133.6,1268.6M2133.6,1268.6L2077.9,1271.4M2077.9,1271.4L2057.4,1217.5M2000.4,1206.3L1996.7,1164.0M2000.4,1206.3L1974.4,1208.2M2000.4,1206.3L1985.0,1235.7M2139.2,1212.3L2174.5,1194.8M2133.6,1268.6L2160.5,1306.7M2077.9,1271.4L2056.9,1310.4" fill="none" stroke="#dcd2da" stroke-width="3.5" stroke-linecap="round"/>
<circle cx="1996.7" cy="1164.0" r="9.3" fill="url(#m2aH)"/>
<circle cx="1974.4" cy="1208.2" r="9.3" fill="url(#m2aH)"/>
<circle cx="1985.0" cy="1235.7" r="9.3" fill="url(#m2aH)"/>
<circle cx="2174.5" cy="1194.8" r="9.3" fill="url(#m2aH)"/>
<circle cx="2160.5" cy="1306.7" r="9.3" fill="url(#m2aH)"/>
<circle cx="2056.9" cy="1310.4" r="9.3" fill="url(#m2aH)"/>
<circle cx="2000.4" cy="1206.3" r="13.0" fill="url(#m2aC)"/>
<circle cx="2057.4" cy="1217.5" r="13.0" fill="url(#m2aC)"/>
<circle cx="2139.2" cy="1212.3" r="13.0" fill="url(#m2aC)"/>
<circle cx="2133.6" cy="1268.6" r="13.0" fill="url(#m2aC)"/>
<circle cx="2094.6" cy="1184.0" r="11.7" fill="url(#m2aN)"/>
<circle cx="2077.9" cy="1271.4" r="11.7" fill="url(#m2aN)"/>
</g>
<polyline points="255.6,1591.9 289.7,1591.9 323.8,1591.9 357.9,1591.9 392.0,1591.9 426.1,1591.9 460.2,1591.9 494.3,1591.9 528.4,1591.9 562.5,1591.9 596.6,1591.9 630.7,1556.7 664.8,1479.0 698.9,1434.8 733.0,1456.3 767.1,1459.2 801.2,1488.3 835.3,1524.2 869.4,1524.2 903.5,1510.2 937.6,1439.3 971.7,1306.8 1005.8,1204.8 1039.9,1062.5 1074.0,800.6 1108.1,730.5 1142.2,897.5 1176.3,1016.1 1210.4,1045.0 1244.5,1002.2 1278.6,850.1 1312.8,848.0 1346.9,1031.6 1381.0,1100.6 1415.1,1095.5 1449.2,1166.6 1483.3,1205.8 1517.4,1185.2 1551.5,1254.3 1585.6,1413.0 1619.7,1504.6 1653.8,1487.3 1687.9,1457.0 1722.0,1463.9 1756.1,1475.6 1790.2,1457.4 1824.3,1438.3 1858.4,1479.0 1892.5,1518.4 1926.6,1520.7 1960.7,1512.6 1994.8,1495.2 2028.9,1503.2 2063.0,1546.3 2097.1,1583.4 2131.2,1591.9 2165.3,1591.9 2199.4,1591.9 2233.5,1591.9 2267.6,1591.9 2301.7,1591.9" fill="none" stroke="#0000ff" stroke-width="8.0" stroke-linejoin="round"/>
<polyline points="255.0,1591.9 289.7,1591.9 323.8,1591.9 357.9,1591.9 392.0,1591.9 432.1,1591.9 460.2,1577.6 494.3,1544.0 528.4,1502.7 562.5,1500.2 596.6,1500.2 630.7,1457.9 664.8,1469.7 698.9,1523.0 733.0,1533.7 767.1,1537.0 801.2,1546.0 835.3,1554.6 869.4,1563.0 903.5,1527.5 937.6,1392.4 971.7,1148.1 1005.8,939.8 1039.9,782.1 1074.0,541.8 1108.1,469.7 1142.2,629.5 1176.3,748.0 1210.4,727.4 1244.5,598.5 1278.6,400.6 1312.8,202.6 1346.9,174.8 1381.0,472.8 1415.1,988.3 1449.2,1289.8 1483.3,1286.2 1517.4,1232.6 1551.5,1113.0 1585.6,849.1 1619.7,591.3 1653.8,634.6 1687.9,1045.0 1722.0,1457.4 1756.1,1591.9 1790.2,1591.9 1824.3,1591.9 1858.4,1591.9 1892.5,1591.9 1926.6,1591.9 1960.7,1591.9 1994.8,1591.9 2028.9,1591.9 2063.0,1591.9 2097.1,1591.9 2131.2,1591.9 2165.3,1591.9 2199.4,1591.9 2233.5,1591.9 2267.6,1591.9 2304.7,1591.9" fill="none" stroke="#ff0000" stroke-width="8.0" stroke-linejoin="round"/>
<line x1="926.5" y1="502.2" x2="1028" y2="543" stroke="#000" stroke-width="8.2" stroke-linecap="round"/>
<path d="M1070.4,564.0 L1008.5,518.0 L1022.5,540.0 L992.5,550.6 Z" fill="#000"/>
<line x1="1975.3" y1="1345.0" x2="1906" y2="1458" stroke="#000" stroke-width="8.0" stroke-linecap="butt"/>
<path d="M1880.4,1500.0 L1903.0,1428.5 L1910.5,1452.0 L1928.0,1453.4 Z" fill="#000"/>
<line x1="1863.6" y1="454.8" x2="2022.6" y2="454.8" stroke="#ff0000" stroke-width="8.4" stroke-linecap="round"/>
<line x1="1863.6" y1="543.1" x2="2022.6" y2="543.1" stroke="#0000ff" stroke-width="8.4" stroke-linecap="round"/>
<text transform="translate(2038.54,477.10) scale(0.9744,1)" font-size="71.50">PTSA</text>
<text transform="translate(2038.52,565.40) scale(0.9867,1)" font-size="71.50">MIm</text>
<text transform="translate(317.36,126.90) scale(1.0055,1)" font-size="62.00">Hydrogen-bond donor</text>
<text transform="translate(1142.64,126.90) scale(1.0231,1)" font-size="62.00">Nonpolar</text>
<text transform="translate(1607.76,126.90) scale(1.0065,1)" font-size="62.00">Hydrogen-bond acceptor</text>
<text transform="translate(181.54,1614.20) scale(1.0238,1)" font-size="81.50">0</text>
<text transform="translate(181.21,1409.70) scale(1.0400,1)" font-size="81.50">2</text>
<text transform="translate(183.59,1201.90) scale(0.9294,1)" font-size="81.50">4</text>
<text transform="translate(181.90,996.80) scale(0.9927,1)" font-size="81.50">6</text>
<text transform="translate(181.86,789.40) scale(1.0080,1)" font-size="81.50">8</text>
<text transform="translate(141.67,584.20) scale(1.0015,1)" font-size="81.50">10</text>
<text transform="translate(141.65,379.00) scale(1.0053,1)" font-size="81.50">12</text>
<text transform="translate(141.81,171.60) scale(0.9793,1)" font-size="81.50">14</text>
<text transform="translate(163.48,1777.70) scale(0.9620,1)" font-size="81.50">−0.03</text>
<text transform="translate(503.98,1777.70) scale(0.9620,1)" font-size="81.50">−0.02</text>
<text transform="translate(843.98,1777.70) scale(0.9620,1)" font-size="81.50">−0.01</text>
<text transform="translate(1210.13,1777.70) scale(0.9620,1)" font-size="81.50">0.00</text>
<text transform="translate(1550.13,1777.70) scale(0.9620,1)" font-size="81.50">0.01</text>
<text transform="translate(1890.13,1777.70) scale(0.9620,1)" font-size="81.50">0.02</text>
<text transform="translate(2233.19,1777.70) scale(0.9407,1)" font-size="81.50">0.03</text>
<text><tspan x="1135.47" y="1881.20" font-size="78.20" textLength="57.98" lengthAdjust="spacingAndGlyphs" style="font-weight:normal;font-style:italic;">σ</tspan><tspan> </tspan><tspan x="1226.32" y="1881.10" font-size="86.40" textLength="151.07" lengthAdjust="spacingAndGlyphs">(e/A</tspan><tspan x="1378.11" y="1848.60" font-size="61.80" textLength="29.88" lengthAdjust="spacingAndGlyphs">2</tspan><tspan x="1408.10" y="1881.10" font-size="86.40" textLength="34.45" lengthAdjust="spacingAndGlyphs">)</tspan></text>
<text transform="rotate(-90)"><tspan x="-1023.64" y="94.90" font-size="86.40" textLength="46.76" lengthAdjust="spacingAndGlyphs">p</tspan><tspan x="-976.42" y="94.90" font-size="84.50" textLength="33.17" lengthAdjust="spacingAndGlyphs">(</tspan><tspan x="-946.86" y="94.90" font-size="79.50" textLength="52.28" lengthAdjust="spacingAndGlyphs" style="font-weight:normal;">σ</tspan><tspan x="-897.96" y="94.90" font-size="84.50" textLength="33.94" lengthAdjust="spacingAndGlyphs">)</tspan><tspan> </tspan><tspan x="-826.82" y="94.90" font-size="84.50" textLength="33.94" lengthAdjust="spacingAndGlyphs">(</tspan><tspan x="-796.47" y="94.90" font-size="87.00" textLength="62.05" lengthAdjust="spacingAndGlyphs" style="font-weight:normal;">Å</tspan><tspan x="-734.30" y="59.30" font-size="61.80" textLength="28.81" lengthAdjust="spacingAndGlyphs">2</tspan><tspan x="-708.56" y="94.90" font-size="84.50" textLength="33.94" lengthAdjust="spacingAndGlyphs">)</tspan></text>
</g>
</svg></body></html>
